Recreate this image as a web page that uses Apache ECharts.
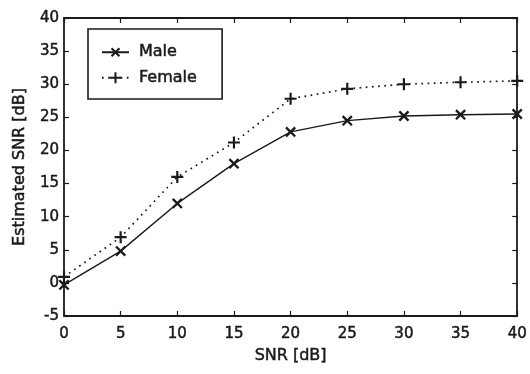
<!DOCTYPE html>
<html>
<head>
<meta charset="utf-8">
<script src="https://cdn.jsdelivr.net/npm/echarts@6/dist/echarts.min.js"></script>
<style>
  html, body { margin: 0; padding: 0; background: #fff; }
  #chart { width: 530px; height: 374px; }
</style>
</head>
<body>
<div id="chart"></div>
<script>
// 数据：按图读出
const snrInput = [0, 5, 10, 15, 20, 25, 30, 35, 40];
const maleEst = [-0.3, 4.8, 12.0, 18.0, 22.8, 24.5, 25.2, 25.4, 25.5];
const femaleEst = [0.9, 6.9, 16.0, 21.2, 27.8, 29.3, 30.0, 30.3, 30.5];

const ink = '#1a1a1a';
const font = 'DejaVu Sans, sans-serif';
const plusPath = 'path://M4.1,0H5.9V4.1H10V5.9H5.9V10H4.1V5.9H0V4.1H4.1Z';
// 扫描件文字偏粗，用细描边加重
const heavy = { textBorderColor: ink, textBorderWidth: 0.5 };

const chart = echarts.init(document.getElementById('chart'));

const axisCommon = {
  type: 'value',
  interval: 5,
  splitLine: { show: false },
  axisLine: { show: true, onZero: false, lineStyle: { color: ink, width: 1.8 } },
  axisTick: { show: true, inside: true, length: 5, lineStyle: { color: ink, width: 1.2 } }
};

const option = {
  animation: false,
  textStyle: { fontFamily: font },
  grid: { left: 64, right: 10, top: 18, bottom: 58 },
  legend: {
    left: 88, top: 29,
    orient: 'vertical',
    padding: [15, 25, 13, 13],
    itemGap: 9,
    itemWidth: 27,
    itemHeight: 14,
    borderColor: ink,
    borderWidth: 1.6,
    textStyle: Object.assign({ color: ink, fontSize: 16, fontFamily: font, padding: [0, 0, 0, 5] }, heavy),
    data: ['Male', 'Female']
  },
  xAxis: [
    Object.assign({}, axisCommon, {
      min: 0, max: 40, position: 'bottom',
      name: 'SNR [dB]', nameLocation: 'middle', nameGap: 30,
      nameTextStyle: Object.assign({ color: ink, fontSize: 16, fontFamily: font }, heavy),
      axisLabel: Object.assign({ color: ink, fontSize: 15, margin: 11, fontFamily: font }, heavy)
    }),
    Object.assign({}, axisCommon, {
      min: 0, max: 40, position: 'top',
      axisLabel: { show: false }
    })
  ],
  yAxis: [
    Object.assign({}, axisCommon, {
      min: -5, max: 40, position: 'left',
      name: 'Estimated SNR [dB]', nameLocation: 'middle', nameGap: 36,
      nameTextStyle: Object.assign({ color: ink, fontSize: 16, fontFamily: font }, heavy),
      axisLabel: Object.assign({ color: ink, fontSize: 15, margin: 5, fontFamily: font }, heavy)
    }),
    Object.assign({}, axisCommon, {
      min: -5, max: 40, position: 'right',
      axisLabel: { show: false }
    })
  ],
  series: [
    {
      name: 'Male',
      type: 'line',
      data: snrInput.map((x, i) => [x, maleEst[i]]),
      symbol: plusPath,
      symbolRotate: 45,
      symbolSize: 13,
      showAllSymbol: true,
      lineStyle: { color: ink, width: 1.4 },
      itemStyle: { color: ink }
    },
    {
      name: 'Female',
      type: 'line',
      data: snrInput.map((x, i) => [x, femaleEst[i]]),
      symbol: plusPath,
      symbolSize: 12,
      showAllSymbol: true,
      lineStyle: { color: ink, width: 1.7, type: [1.7, 4.5] },
      itemStyle: { color: ink }
    }
  ]
};

chart.setOption(option);
</script>
</body>
</html>
